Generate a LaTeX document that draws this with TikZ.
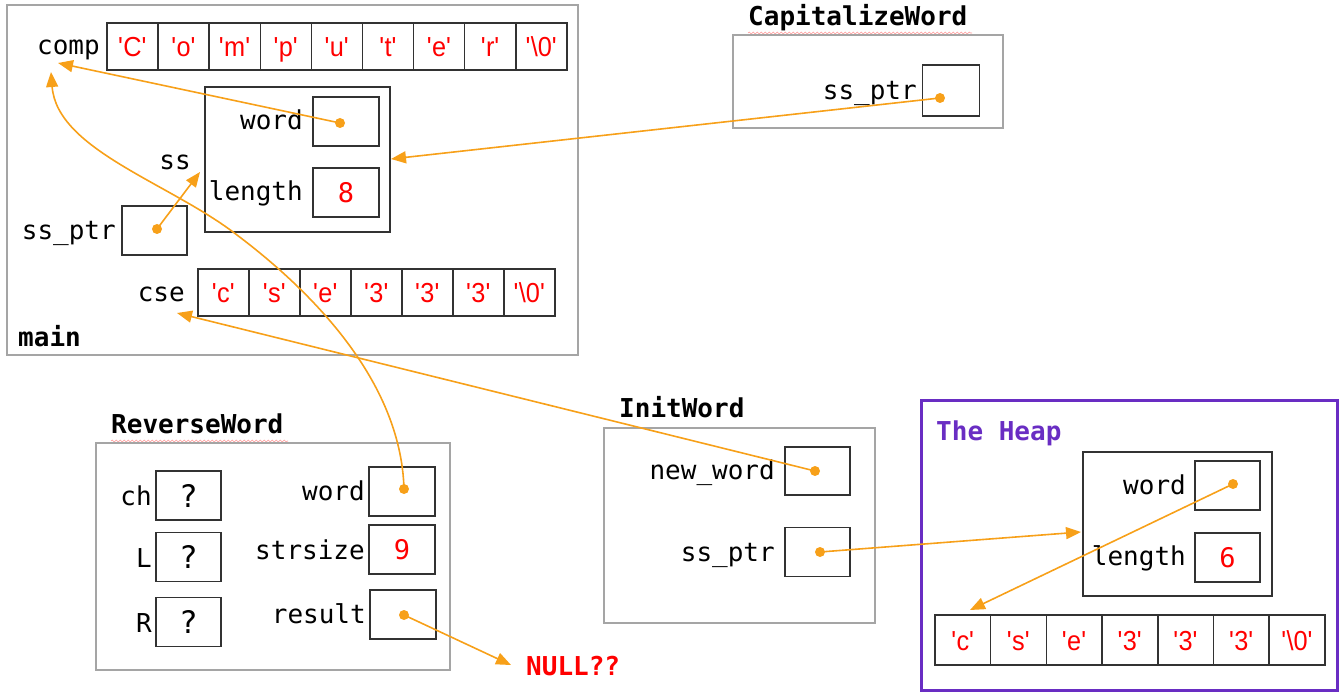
\documentclass[tikz,border=0pt]{standalone}
\usepackage{fontspec}
\setmainfont{Liberation Sans}
\newfontfamily\monof{DejaVu Sans Mono}
\newfontfamily\charf[FakeStretch=0.92]{Liberation Sans}
\usetikzlibrary{arrows.meta,decorations.pathmorphing}
\definecolor{ptrorange}{RGB}{247,160,25}
\definecolor{heappurple}{RGB}{105,45,195}
\definecolor{framegray}{RGB}{165,165,165}
\definecolor{boxgray}{RGB}{50,50,50}
\newcommand\sq{\textquotesingle}
\begin{document}
\begin{tikzpicture}[x=1pt,y=-1pt,
  frame/.style={draw=framegray,line width=1.6pt},
  structbox/.style={draw=boxgray,line width=1.5pt,inner sep=0pt},
  cellbox/.style={draw=boxgray,line width=1.5pt,inner sep=0pt,text height=20pt,text depth=0pt},
  chr/.style={font=\charf\fontsize{27.5}{32}\selectfont,text=red},
  num/.style={font=\monof\fontsize{27}{32}\selectfont,text=red},
  qm/.style={font=\monof\fontsize{31}{36}\selectfont,text height=23pt},
  lbl/.style={font=\monof\fontsize{26}{30}\selectfont,anchor=base east,inner sep=0pt},
  ttl/.style={font=\monof\bfseries\fontsize{26}{30}\selectfont,anchor=base west,inner sep=0pt},
  ptr/.style={draw=ptrorange,line width=1.6pt,-{Triangle[length=15pt,width=12pt]}},
  ptrdot/.style={circle,fill=ptrorange,inner sep=0pt,minimum size=10pt},
  squig/.style={draw=red!40,line width=0.6pt,decorate,decoration={snake,amplitude=0.9pt,segment length=4pt}}
]
\useasboundingbox (0,0) rectangle (1339,692);

% ---------------- main ----------------
\draw[frame] (7,5) rectangle (578,355);
\node[ttl] (mainttl) at (18,347) {main};

\node[lbl] (complbl) at (100,55) {comp};
\foreach \ltr [count=\i] in {C,o,m,p,u,t,e,r,\textbackslash 0}
  \node[cellbox,chr,minimum width=51.1pt,minimum height=47pt] (comp\i) at ({107+51.1*(\i-0.5)},46.5) {\sq\ltr\sq};

\node[structbox,minimum width=185pt,minimum height=145pt] (ss) at (297.5,159.5) {};
\node[lbl] (sslbl) at (191,170) {ss};
\node[lbl] (sswordlbl) at (303,130) {word};
\node[cellbox,minimum width=66pt,minimum height=49pt] (ssword) at (346,121.5) {};
\node[lbl] (sslenlbl) at (303,201) {length};
\node[cellbox,num,minimum width=66pt,minimum height=49pt] (sslen) at (346,192.5) {8};

\node[lbl] (ssptrlbl) at (116,240) {ss\_ptr};
\node[cellbox,minimum width=65pt,minimum height=49pt] (ssptr) at (154.5,230.5) {};

\node[lbl] (cselbl) at (185,302) {cse};
\foreach \ltr [count=\i] in {c,s,e,3,3,3,\textbackslash 0}
  \node[cellbox,chr,minimum width=51pt,minimum height=47pt] (cse\i) at ({198+51*(\i-0.5)},292.5) {\sq\ltr\sq};

% ---------------- CapitalizeWord ----------------
\node[ttl] (capttl) at (748,26) {CapitalizeWord};
\draw[squig] (748,33) -- (972,33);
\draw[frame] (733,35) rectangle (1003,128);
\node[lbl] (capptrlbl) at (917,100) {ss\_ptr};
\node[cellbox,minimum width=57pt,minimum height=51pt] (capptr) at (951,90.5) {};

% ---------------- ReverseWord ----------------
\node[ttl] (revttl) at (111,434) {ReverseWord};
\draw[squig] (111,441) -- (288,441);
\draw[frame] (96,443) rectangle (450,670);
\node[lbl] (chlbl) at (152,505) {ch};
\node[cellbox,qm,minimum width=65pt,minimum height=49pt] (chbox) at (188.5,495.5) {?};
\node[lbl] (llbl) at (152,567) {L};
\node[cellbox,qm,minimum width=65pt,minimum height=49pt] (lbox) at (188.5,557) {?};
\node[lbl] (rlbl) at (152,632) {R};
\node[cellbox,qm,minimum width=65pt,minimum height=49pt] (rbox) at (188.5,622) {?};
\node[lbl] (revwordlbl) at (365,500) {word};
\node[cellbox,minimum width=66pt,minimum height=49pt] (revword) at (402,491.5) {};
\node[lbl] (strsizelbl) at (365,559) {strsize};
\node[cellbox,num,minimum width=66pt,minimum height=49pt] (strsize) at (402,549.5) {9};
\node[lbl] (resultlbl) at (366,623) {result};
\node[cellbox,minimum width=66pt,minimum height=49pt] (result) at (403,614.5) {};
\node[ttl,text=red] (null) at (526,675) {NULL??};

% ---------------- InitWord ----------------
\node[ttl] (initttl) at (619,418) {InitWord};
\draw[frame] (604,428) rectangle (875,623);
\node[lbl] (newwordlbl) at (775,479) {new\_word};
\node[cellbox,minimum width=65pt,minimum height=48pt] (newword) at (817.5,471) {};
\node[lbl] (initptrlbl) at (775,561) {ss\_ptr};
\node[cellbox,minimum width=65pt,minimum height=49pt] (initptr) at (817.5,552) {};

% ---------------- The Heap ----------------
\draw[draw=heappurple,line width=3pt] (921,401) rectangle (1337,690);
\node[ttl,text=heappurple] (heapttl) at (936,441) {The Heap};
\node[structbox,minimum width=189pt,minimum height=144pt] (heapss) at (1177.5,524) {};
\node[lbl] (heapwordlbl) at (1186,494) {word};
\node[cellbox,minimum width=65pt,minimum height=49pt] (heapword) at (1227.5,485.5) {};
\node[lbl] (heaplenlbl) at (1186,565) {length};
\node[cellbox,num,minimum width=65pt,minimum height=49pt] (heaplen) at (1227.5,557.5) {6};
\foreach \ltr [count=\i] in {c,s,e,3,3,3,\textbackslash 0}
  \node[cellbox,chr,minimum width=55.7pt,minimum height=50pt] (heap\i) at ({935+55.7*(\i-0.5)},640) {\sq\ltr\sq};

% ---------------- pointers ----------------
\node[ptrdot] (d1) at (340,123) {};
\node[ptrdot] (d2) at (404,489) {};
\node[ptrdot] (d3) at (157,229) {};
\node[ptrdot] (d4) at (940,98) {};
\node[ptrdot] (d5) at (815,471) {};
\node[ptrdot] (d6) at (820,552) {};
\node[ptrdot] (d7) at (1233,484) {};
\node[ptrdot] (d8) at (404,615) {};

\coordinate (t1) at (58,63);
\coordinate (t2) at (51,72);
\coordinate (m2) at (237,235);
\coordinate (t3) at (200,172);
\coordinate (t4) at (391,159);
\coordinate (t5) at (177,313);
\coordinate (t6) at (1081,532);
\coordinate (t7) at (970,610);
\coordinate (t8) at (511,665);

\draw[ptr] (d1.center) -- (t1);
\draw[ptr] (d2.center) .. controls (401,380) and (310,290) .. (m2) .. controls (170,183) and (57,150) .. (t2);
\draw[ptr] (d3.center) -- (t3);
\draw[ptr] (d4.center) -- (t4);
\draw[ptr] (d5.center) -- (t5);
\draw[ptr] (d6.center) -- (t6);
\draw[ptr] (d7.center) -- (t7);
\draw[ptr] (d8.center) -- (t8);
\end{tikzpicture}
\end{document}
